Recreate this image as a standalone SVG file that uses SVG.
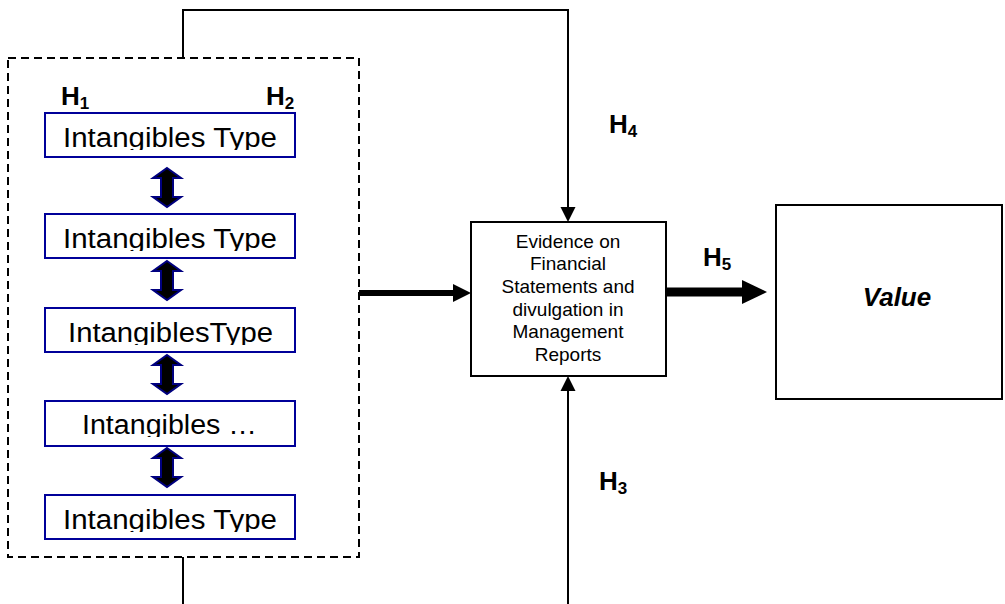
<svg xmlns="http://www.w3.org/2000/svg" width="1005" height="604" viewBox="0 0 1005 604">
<style>
.line{fill:none;stroke:#000;stroke-width:2}
.ibox{fill:#fff;stroke:#000099;stroke-width:2}
.itext{font-family:"Liberation Sans",Arial,sans-serif;font-size:27px;fill:#000;text-anchor:middle}
.h{font-family:"Liberation Sans",Arial,sans-serif;font-size:26px;font-weight:bold;fill:#000}
.sub{font-size:17px}
.ev{font-family:"Liberation Sans",Arial,sans-serif;font-size:19px;fill:#000;text-anchor:middle}
.dbl{fill:#000;stroke:#000080;stroke-width:2;stroke-linejoin:miter}
</style>
<defs>
<path id="dblarrow" d="M0,0 L14,10 L6,10 L6,29 L14,29 L0,39 L-14,29 L-6,29 L-6,10 L-14,10 Z"/>
<clipPath id="c1"><rect x="45" y="113" width="250" height="37"/></clipPath>
<clipPath id="c2"><rect x="45" y="214" width="250" height="37"/></clipPath>
<clipPath id="c3"><rect x="45" y="308" width="250" height="37"/></clipPath>
<clipPath id="c4"><rect x="45" y="401" width="250" height="36"/></clipPath>
<clipPath id="c5"><rect x="45" y="495" width="250" height="37"/></clipPath>
</defs>

<g id="connectors">
<path class="line" d="M183,58 V10 H568 V207" />
<polygon points="560.5,207 575.5,207 568,222" fill="#000"/>
<path class="line" d="M183,557 V604" />
<path class="line" d="M568,604 V391" />
<polygon points="560.5,391 575.5,391 568,376" fill="#000"/>
<path d="M359,293 H455" stroke="#000" stroke-width="6" fill="none"/>
<polygon points="453,284 471,293 453,302" fill="#000"/>
<path d="M666,292 H744" stroke="#000" stroke-width="9" fill="none"/>
<polygon points="742,280 767,292 742,304" fill="#000"/>
<use href="#dblarrow" class="dbl" x="167" y="168"/>
<use href="#dblarrow" class="dbl" x="167" y="261"/>
<use href="#dblarrow" class="dbl" x="167" y="355"/>
<use href="#dblarrow" class="dbl" x="167" y="448"/>
</g>

<g id="group-box">
<rect x="8" y="58" width="351" height="499" fill="none" stroke="#000" stroke-width="2" stroke-dasharray="8,5"/>
</g>

<g id="h1"><text class="h" x="61" y="105">H<tspan class="sub" dy="4">1</tspan></text></g>
<g id="h2"><text class="h" x="266" y="105">H<tspan class="sub" dy="4">2</tspan></text></g>
<g id="h3"><text class="h" x="599" y="490">H<tspan class="sub" dy="4">3</tspan></text></g>
<g id="h4"><text class="h" x="609" y="133">H<tspan class="sub" dy="4">4</tspan></text></g>
<g id="h5"><text class="h" x="703" y="266">H<tspan class="sub" dy="4">5</tspan></text></g>

<g id="type1">
<rect class="ibox" x="45" y="113" width="250" height="44"/>
<text class="itext" x="170" y="147" textLength="214" lengthAdjust="spacingAndGlyphs" clip-path="url(#c1)">Intangibles Type</text>
</g>
<g id="type2">
<rect class="ibox" x="45" y="214" width="250" height="44"/>
<text class="itext" x="170" y="248" textLength="214" lengthAdjust="spacingAndGlyphs" clip-path="url(#c2)">Intangibles Type</text>
</g>
<g id="type3">
<rect class="ibox" x="45" y="308" width="250" height="44"/>
<text class="itext" x="170.5" y="342" textLength="205" lengthAdjust="spacingAndGlyphs" clip-path="url(#c3)">IntangiblesType</text>
</g>
<g id="type4">
<rect class="ibox" x="45" y="401" width="250" height="45"/>
<text class="itext" x="169.5" y="434" textLength="175" lengthAdjust="spacingAndGlyphs" clip-path="url(#c4)">Intangibles …</text>
</g>
<g id="type5">
<rect class="ibox" x="45" y="495" width="250" height="44"/>
<text class="itext" x="170" y="529" textLength="214" lengthAdjust="spacingAndGlyphs" clip-path="url(#c5)">Intangibles Type</text>
</g>

<g id="evidence">
<rect x="471" y="222" width="195" height="154" fill="#fff" stroke="#000" stroke-width="2"/>
<text class="ev" x="568" y="248">Evidence on</text>
<text class="ev" x="568" y="270">Financial</text>
<text class="ev" x="568" y="293">Statements and</text>
<text class="ev" x="568" y="316">divulgation in</text>
<text class="ev" x="568" y="338">Management</text>
<text class="ev" x="568" y="361">Reports</text>
</g>

<g id="value">
<rect x="776" y="205" width="226" height="194" fill="#fff" stroke="#000" stroke-width="2"/>
<text x="897" y="306" font-family="Liberation Sans, Arial, sans-serif" font-size="26" font-weight="bold" font-style="italic" text-anchor="middle">Value</text>
</g>
</svg>
